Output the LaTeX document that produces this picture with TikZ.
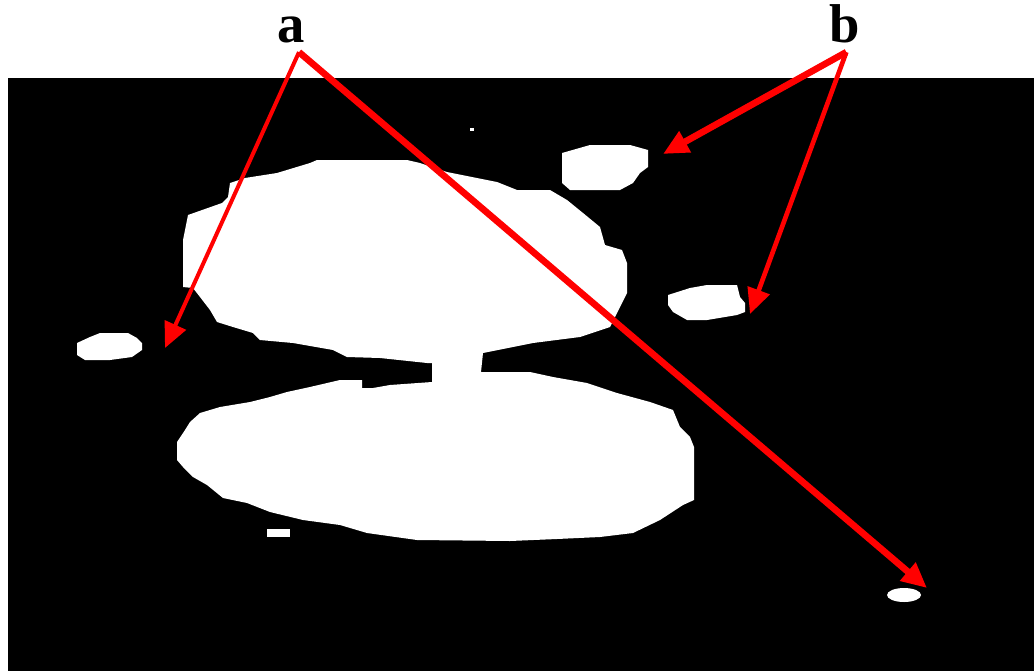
\documentclass[tikz,border=0pt]{standalone}
\usepackage{fontspec}
\setmainfont{Liberation Serif}
\usepackage{tikz}
\usetikzlibrary{arrows.meta,positioning}

\begin{document}
\begin{tikzpicture}[x=0.75pt,y=-0.75pt,
    lbl/.style={font=\fontsize{41}{41}\selectfont\bfseries,inner sep=0pt,anchor=base},
    blob/.style={fill=white,draw=none},
    ptr/.style={draw=red,line width=#1,line cap=butt,
                -{Triangle[length=19pt,width=17pt]}},
    ptr/.default=4pt]
  \useasboundingbox (0,0) rectangle (1034,671);
  \fill[black] (8,78) rectangle (1034,671);

  % the two big blobs joined by a neck
  \path[blob] (317,160) -- (407,160) -- (420,163) -- (447,172) -- (497,182)
    -- (517,190) -- (550,190) -- (567,200) -- (583,213) -- (600,227)
    -- (605,245) -- (622,250) -- (627,263) -- (627,293) -- (617,313)
    -- (610,327) -- (580,337) -- (533,343) -- (483,353) -- (481,372)
    -- (530,372) -- (553,377) -- (587,383) -- (617,393) -- (650,402)
    -- (673,410) -- (680,427) -- (690,437) -- (694,447) -- (694,500)
    -- (683,505) -- (660,520) -- (633,533) -- (600,537) -- (557,539)
    -- (510,541) -- (417,540) -- (367,533) -- (340,525) -- (303,520)
    -- (270,512) -- (247,503) -- (223,498) -- (207,485) -- (193,477)
    -- (183,467) -- (177,460) -- (177,442) -- (185,430) -- (190,422)
    -- (200,413) -- (220,407) -- (250,402) -- (270,397) -- (287,392)
    -- (310,387) -- (340,380) -- (362,380) -- (362,388) -- (373,388)
    -- (390,385) -- (432,382) -- (432,363) -- (427,363) -- (380,358)
    -- (347,357) -- (333,350) -- (293,343) -- (260,340) -- (253,333)
    -- (233,327) -- (217,322) -- (210,310) -- (200,297) -- (193,288)
    -- (183,287) -- (183,240) -- (188,215) -- (222,203) -- (228,197)
    -- (230,183) -- (245,178) -- (277,173) -- (310,163) -- cycle;

  % small blobs
  \path[blob] (562,153) -- (590,145) -- (630,145) -- (648,150) -- (648,167)
    -- (640,173) -- (633,183) -- (620,190) -- (570,190) -- (562,183) -- cycle;
  \path[blob] (668,295) -- (690,288) -- (707,285) -- (737,285) -- (740,297)
    -- (745,303) -- (745,312) -- (737,315) -- (707,320) -- (687,320)
    -- (673,312) -- (668,305) -- cycle;
  \path[blob] (77,343) -- (90,337) -- (100,333) -- (128,333) -- (137,338)
    -- (142,343) -- (142,350) -- (132,357) -- (110,360) -- (85,360)
    -- (77,355) -- cycle;
  \path[blob] (904,595) ellipse [x radius=17,y radius=7];
  \path[blob] (267,529) rectangle (290,537);
  \path[blob] (470,128) rectangle (474,131);

  % labels
  \node[lbl] (la) at (291,42) {a};
  \node[lbl] (lb) at (845,42) {b};

  \coordinate (ta1) at (165,348);
  \coordinate (ta2) at (927,588);
  \coordinate (tb1) at (663,154);
  \coordinate (tb2) at (750,314);

  \draw[ptr=3pt]   ([xshift=6pt,yshift=-7pt]la.south) -- (ta1);
  \draw[ptr=5pt]   ([xshift=6pt,yshift=-7pt]la.south) -- (ta2);
  \draw[ptr=5pt]   ([xshift=1pt,yshift=-7pt]lb.south) -- (tb1);
  \draw[ptr=3.5pt] ([xshift=1pt,yshift=-7pt]lb.south) -- (tb2);
\end{tikzpicture}
\end{document}
